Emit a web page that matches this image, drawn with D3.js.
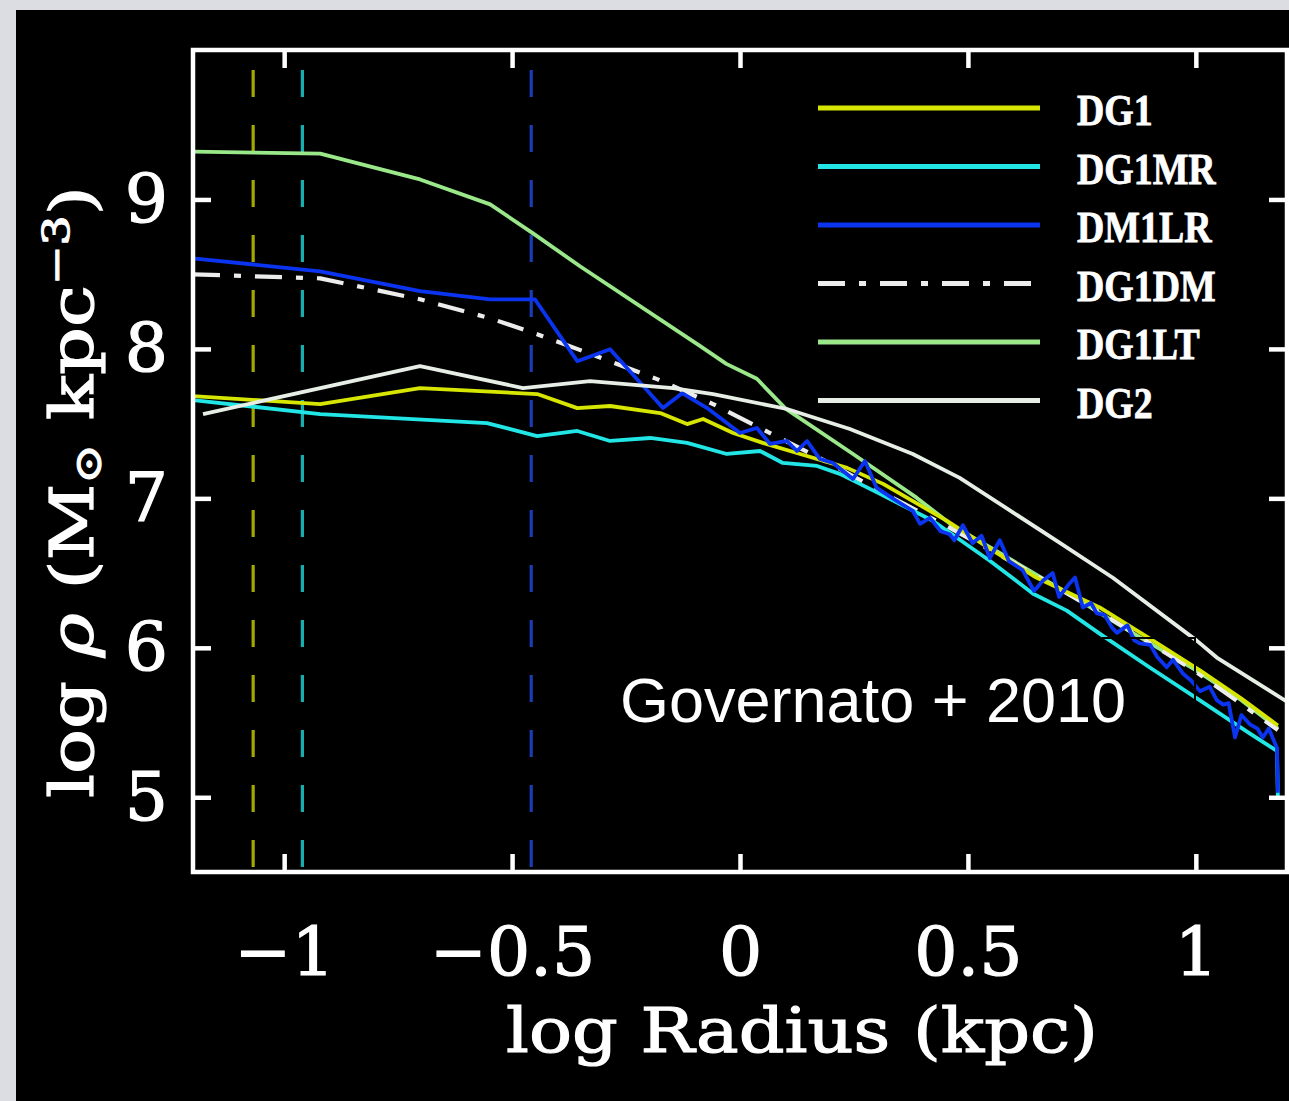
<!DOCTYPE html>
<html>
<head>
<meta charset="utf-8">
<script src="https://cdn.jsdelivr.net/npm/d3@7"></script>
<style>
  html, body { margin: 0; padding: 0; background: #dcdde2; }
  svg { display: block; }
</style>
</head>
<body>
<svg id="chart" width="1289" height="1101"></svg>
<script>
// ---- Density profiles: [log r (kpc), log rho (Msun kpc^-3)] ----
const seriesNames = ["DG1", "DG1MR", "DM1LR", "DG1DM", "DG1LT", "DG2"];

const DG1 = [
  [-1.2, 7.684], [-0.921, 7.631], [-0.702, 7.738], [-0.445, 7.698], [-0.357, 7.604],
  [-0.285, 7.618], [-0.175, 7.571], [-0.116, 7.497], [-0.081, 7.531], [-0.015, 7.437],
  [0.050, 7.371], [0.132, 7.297], [0.235, 7.204], [0.314, 7.097], [0.454, 6.85],
  [0.55, 6.66], [0.65, 6.47], [0.789, 6.27], [0.90, 6.06], [1.009, 5.85],
  [1.10, 5.66], [1.18, 5.48]
];

const DG1MR = [
  [-1.2, 7.658], [-0.921, 7.564], [-0.555, 7.504], [-0.445, 7.417], [-0.357, 7.451],
  [-0.285, 7.384], [-0.197, 7.404], [-0.116, 7.371], [-0.029, 7.297], [0.044, 7.317],
  [0.094, 7.237], [0.169, 7.217], [0.219, 7.164], [0.307, 7.030], [0.423, 6.85],
  [0.454, 6.783], [0.548, 6.583], [0.643, 6.362], [0.717, 6.249], [0.789, 6.095],
  [0.899, 5.868], [1.009, 5.648], [1.118, 5.427], [1.178, 5.31], [1.18, 5.0]
];

const DM1LR = [
  [-1.2, 8.606], [-0.921, 8.519], [-0.702, 8.386], [-0.548, 8.332], [-0.45, 8.332],
  [-0.357, 7.918], [-0.285, 7.998], [-0.169, 7.604], [-0.127, 7.704], [-0.072, 7.604],
  [0.0, 7.437], [0.037, 7.471], [0.066, 7.364], [0.103, 7.384], [0.125, 7.317],
  [0.147, 7.384], [0.175, 7.264], [0.204, 7.237], [0.248, 7.130], [0.274, 7.250],
  [0.300, 7.070], [0.340, 6.99], [0.379, 6.917], [0.395, 6.83], [0.417, 6.87],
  [0.44, 6.78], [0.46, 6.76], [0.47, 6.72], [0.489, 6.82], [0.51, 6.70],
  [0.53, 6.75], [0.548, 6.60], [0.570, 6.72], [0.59, 6.58], [0.62, 6.52],
  [0.645, 6.38], [0.665, 6.45], [0.686, 6.50], [0.70, 6.34], [0.72, 6.42],
  [0.735, 6.47], [0.752, 6.27], [0.77, 6.30], [0.783, 6.23], [0.80, 6.22],
  [0.815, 6.14], [0.827, 6.10], [0.85, 6.15], [0.865, 6.05], [0.877, 6.03],
  [0.90, 6.02], [0.915, 5.94], [0.936, 5.87], [0.95, 5.92], [0.971, 5.83],
  [0.99, 5.78], [1.009, 5.71], [1.03, 5.74], [1.046, 5.65], [1.06, 5.62],
  [1.072, 5.63], [1.086, 5.40], [1.10, 5.55], [1.118, 5.49], [1.135, 5.46],
  [1.147, 5.40], [1.16, 5.46], [1.178, 5.33], [1.18, 5.03]
];

const DG1DM = [
  [-1.2, 8.499], [-0.921, 8.472], [-0.702, 8.332], [-0.548, 8.205], [-0.445, 8.098],
  [-0.344, 7.985], [-0.182, 7.798], [-0.059, 7.631], [0.066, 7.437], [0.2, 7.23],
  [0.3, 7.06], [0.45, 6.82], [0.6, 6.57], [0.8, 6.22], [1.0, 5.84], [1.18, 5.45]
];

const DG1LT = [
  [-1.2, 9.32], [-0.921, 9.307], [-0.702, 9.134], [-0.548, 8.967], [-0.454, 8.773],
  [-0.351, 8.553], [-0.088, 8.02], [-0.03, 7.90], [0.037, 7.80], [0.10, 7.60],
  [0.248, 7.297], [0.388, 7.003], [0.467, 6.816], [0.55, 6.67], [0.70, 6.40],
  [0.85, 6.12], [1.0, 5.85], [1.10, 5.65], [1.18, 5.46]
];

const DG2 = [
  [-1.178, 7.564], [-0.702, 7.885], [-0.476, 7.738], [-0.329, 7.785], [-0.147, 7.738],
  [-0.059, 7.698], [0.103, 7.598], [0.241, 7.464], [0.379, 7.297], [0.482, 7.137],
  [0.695, 6.716], [0.818, 6.469], [1.002, 6.048], [1.046, 5.935], [1.2, 5.64]
];

// Resolution limits (log kpc) of the three runs
const markerNames = ["DG1", "DG1MR", "DM1LR"];
const markerX = [-1.068, -0.96, -0.458];

// Axis ticks
const xTicks = [-1, -0.5, 0, 0.5, 1];
const yTicks = [5, 6, 7, 8, 9];

// ---- Styles ----
const lineColor = {
  DG1: "#d6e600", DG1MR: "#22e6e6", DM1LR: "#0a34f0",
  DG1DM: "#ececec", DG1LT: "#9ae88a", DG2: "#e6eee6"
};
const markerColor = { DG1: "#a2a800", DG1MR: "#17aeb0", DM1LR: "#1a3cb4" };
const seriesData = { DG1, DG1MR, DM1LR, DG1DM, DG1LT, DG2 };
const drawOrder = ["DG1LT", "DG1DM", "DG1", "DG1MR", "DM1LR", "DG2"];
const dashDot = "27 14 7 14";

const svg = d3.select("#chart");
const W = 1289, H = 1101;
const plot = { left: 193, right: 1287, top: 50, bottom: 872 };

// black panel
svg.append("rect").attr("x", 16).attr("y", 10).attr("width", W - 16).attr("height", H - 10)
  .attr("fill", "#000");

const x = d3.scaleLinear().domain([-1.2, 1.2]).range([plot.left, plot.right]);
const y = d3.scaleLinear().domain([4.5, 10]).range([plot.bottom, plot.top]);

svg.append("clipPath").attr("id", "clip").append("rect")
  .attr("x", plot.left).attr("y", plot.top)
  .attr("width", plot.right - plot.left).attr("height", plot.bottom - plot.top);

const g = svg.append("g").attr("clip-path", "url(#clip)");

// dashed resolution markers
g.selectAll("line.marker").data(markerNames).join("line")
  .attr("class", "marker")
  .attr("x1", (d, i) => x(markerX[i])).attr("x2", (d, i) => x(markerX[i]))
  .attr("y1", y(10)).attr("y2", y(4.5))
  .attr("stroke", d => markerColor[d]).attr("stroke-width", 3.2)
  .attr("stroke-dasharray", "27 28").attr("stroke-dashoffset", 35);

// profiles
const line = d3.line().x(d => x(d[0])).y(d => y(d[1]));
g.selectAll("path.profile").data(drawOrder).join("path")
  .attr("class", "profile")
  .attr("d", d => line(seriesData[d]))
  .attr("fill", "none")
  .attr("stroke", d => lineColor[d])
  .attr("stroke-width", d => d === "DG1DM" ? 4.2 : 3.8)
  .attr("stroke-linejoin", "round")
  .attr("stroke-dasharray", d => d === "DG1DM" ? dashDot : null);

// ---- Axes: inward ticks on all four sides ----
const tickLen = 18;
const serif = "'DejaVu Serif', serif";
const axisStyle = sel => {
  sel.select(".domain").remove();
  sel.selectAll(".tick line").attr("stroke", "#fff").attr("stroke-width", 4.5);
  sel.selectAll(".tick text").attr("fill", "#fff")
    .attr("stroke", "#fff").attr("stroke-width", 1.2)
    .style("font-family", serif).style("font-size", "68px");
};
const fmt = d3.format("");

svg.append("g").attr("transform", `translate(0,${plot.bottom})`)
  .call(d3.axisBottom(x).tickValues(xTicks).tickSize(-tickLen).tickPadding(55).tickFormat(fmt))
  .call(axisStyle);
svg.append("g").attr("transform", `translate(0,${plot.top})`)
  .call(d3.axisTop(x).tickValues(xTicks).tickSize(-tickLen).tickFormat(""))
  .call(axisStyle);
svg.append("g").attr("transform", `translate(${plot.left},0)`)
  .call(d3.axisLeft(y).tickValues(yTicks).tickSize(-tickLen).tickPadding(25).tickFormat(fmt))
  .call(axisStyle);
svg.append("g").attr("transform", `translate(${plot.right},0)`)
  .call(d3.axisRight(y).tickValues(yTicks).tickSize(-tickLen).tickFormat(""))
  .call(axisStyle);

// frame
svg.append("rect")
  .attr("x", plot.left).attr("y", plot.top)
  .attr("width", plot.right - plot.left).attr("height", plot.bottom - plot.top)
  .attr("fill", "none").attr("stroke", "#fff").attr("stroke-width", 4.5);

// axis titles
svg.append("text")
  .attr("x", (plot.left + plot.right) / 2 + 62).attr("y", 1052)
  .attr("text-anchor", "middle").attr("fill", "#fff")
  .attr("stroke", "#fff").attr("stroke-width", 1.2)
  .attr("textLength", 592).attr("lengthAdjust", "spacingAndGlyphs")
  .style("font-family", serif).style("font-size", "62px")
  .text("log Radius (kpc)");

const yTitle = svg.append("text")
  .attr("transform", "translate(93,492) rotate(-90)")
  .attr("text-anchor", "middle").attr("fill", "#fff")
  .attr("stroke", "#fff").attr("stroke-width", 1.2)
  .attr("textLength", 612).attr("lengthAdjust", "spacingAndGlyphs")
  .style("font-family", serif).style("font-size", "60px");
yTitle.append("tspan").text("log ");
yTitle.append("tspan").style("font-style", "italic").text("ρ");
yTitle.append("tspan").text(" (M");
yTitle.append("tspan").attr("dy", 8).style("font-size", "38px").text("⊙");
yTitle.append("tspan").attr("dy", -8).text(" kpc");
yTitle.append("tspan").attr("dy", -24).style("font-size", "38px").text("−3");
yTitle.append("tspan").attr("dy", 24).text(")");

// ---- Legend ----
const legend = svg.append("g");
const legRow = 58.5, legTop = 108;
seriesNames.forEach((name, i) => {
  const ly = legTop + i * legRow;
  legend.append("line")
    .attr("x1", 818).attr("x2", name === "DG1DM" ? 1033 : 1040)
    .attr("y1", ly).attr("y2", ly)
    .attr("stroke", lineColor[name]).attr("stroke-width", 5)
    .attr("stroke-dasharray", name === "DG1DM" ? dashDot : null);
  legend.append("text")
    .attr("transform", `translate(1077,${ly + 17}) scale(0.86,1)`)
    .attr("fill", "#fff")
    .attr("stroke", "#fff").attr("stroke-width", 0.8)
    .style("font-family", "'Liberation Serif', serif").style("font-weight", "bold")
    .style("font-size", "44px")
    .text(name);
});

// reference note
svg.append("text")
  .attr("x", 620).attr("y", 722).attr("fill", "#fff")
  .style("font-family", "'Liberation Sans', Arial, sans-serif").style("font-size", "63px")
  .text("Governato + 2010");

// edges of the note's box, visible where they cross the profiles
svg.append("path")
  .attr("d", "M1102,638 H1195 V703")
  .attr("fill", "none").attr("stroke", "#000").attr("stroke-width", 2);
</script>
</body>
</html>
